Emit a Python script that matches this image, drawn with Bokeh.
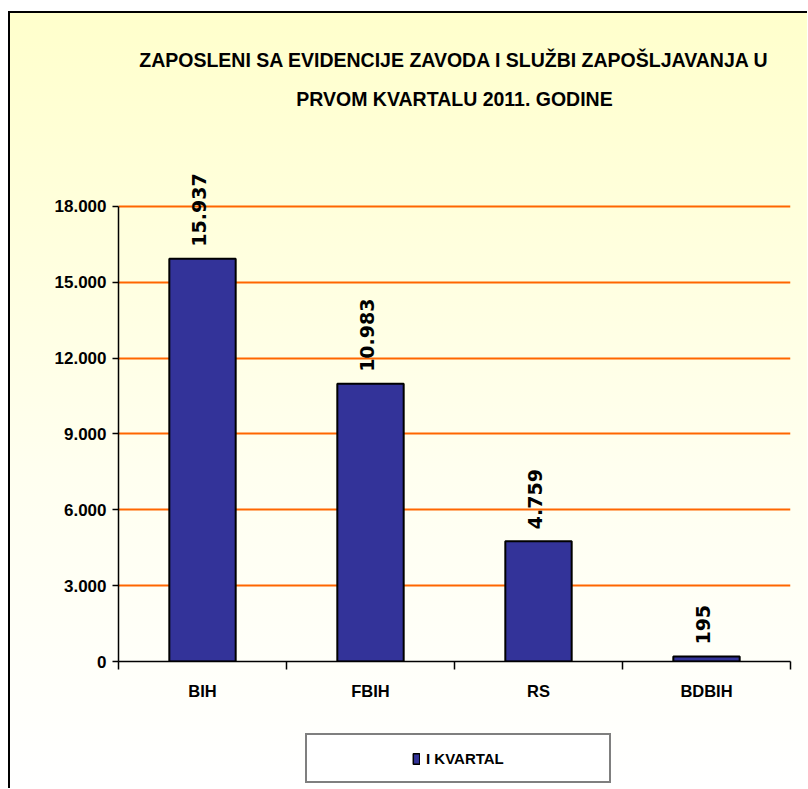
import math
from bokeh.plotting import figure
from bokeh.layouts import column
from bokeh.core.properties import value
from bokeh.models import (ColumnDataSource, FixedTicker, LabelSet, Legend, LegendItem, Title, Range1d)
from bokeh.embed import file_html
from bokeh.resources import INLINE

# ---- data ----
categories = ["BIH", "FBIH", "RS", "BDBIH"]
values = [15937, 10983, 4759, 195]
value_labels = ["15.937", "10.983", "4.759", "195"]
y_ticks = [0, 3000, 6000, 9000, 12000, 15000, 18000]
y_tick_labels = ["0", "3.000", "6.000", "9.000", "12.000", "15.000", "18.000"]
series_name = "I KVARTAL"
title_lines = ["ZAPOSLENI SA EVIDENCIJE ZAVODA I SLUŽBI ZAPOŠLJAVANJA U",
               "PRVOM KVARTALU 2011. GODINE"]

SANS = "'Liberation Sans', Arial, sans-serif"
WIDE = "DejaVu Sans"
BAR = "#333399"
GRID = "#FF6600"

xc = [i + 0.5 for i in range(len(categories))]
src = ColumnDataSource(dict(x=xc, top=values, lab=value_labels, cat=categories))

W = 797
p = figure(width=W, height=708, x_range=(0, len(categories)), y_range=(0, 20215),
           output_backend="svg", toolbar_location=None, tools="",
           min_border_left=108, min_border_right=17, min_border_top=137, min_border_bottom=60,
           title=None)
p.border_fill_color = None
p.background_fill_color = None
p.outline_line_color = None

# titles (first in list is nearest the frame)
def mk_title(txt, size, standoff):
    return Title(text=txt, align="center", text_font=SANS, text_font_size=size,
                 text_font_style="bold", text_color="black", standoff=standoff, offset=5)

spacer = mk_title("\u00a0", "19.5px", 9)
t2 = mk_title(title_lines[1], "19.5px", 15)
t1 = mk_title(title_lines[0], "19.5px", 15)
p.above = [spacer, t2, t1]

bars = p.vbar(x="x", top="top", width=0.395, source=src, fill_color=BAR,
              line_color="black", line_width=2)

labels = LabelSet(x="x", y="top", text="lab", source=src, angle=math.pi / 2,
                  text_align="left", text_baseline="middle", y_offset=12, x_offset=-3,
                  text_font=value(WIDE), text_font_style="bold", text_font_size="19px",
                  text_color="black")
p.add_layout(labels)

# y axis
p.yaxis.ticker = FixedTicker(ticks=y_ticks, minor_ticks=[])
p.yaxis.bounds = (y_ticks[0], y_ticks[-1])
p.yaxis.major_label_overrides = {t: l for t, l in zip(y_ticks, y_tick_labels)}
p.yaxis.major_label_text_font = SANS
p.yaxis.major_label_text_font_size = "17px"
p.yaxis.major_label_text_font_style = "bold"
p.yaxis.major_label_text_color = "black"
p.yaxis.major_tick_out = 6
p.yaxis.major_tick_in = 0
p.yaxis.axis_line_width = 1.5
p.yaxis.major_tick_line_width = 1.5
p.yaxis.major_label_standoff = 6

# x axis: labels at category centers, ticks at boundaries
p.xaxis.ticker = FixedTicker(ticks=xc, minor_ticks=list(range(len(categories) + 1)))
p.xaxis.major_label_overrides = {x: c for x, c in zip(xc, categories)}
p.xaxis.major_label_text_font = SANS
p.xaxis.major_label_text_font_size = "16.5px"
p.xaxis.major_label_text_font_style = "bold"
p.xaxis.major_label_text_color = "black"
p.xaxis.major_tick_out = 0
p.xaxis.major_tick_in = 0
p.xaxis.minor_tick_out = 8
p.xaxis.minor_tick_in = 0
p.xaxis.minor_tick_line_width = 1.5
p.xaxis.axis_line_width = 1.5
p.xaxis.major_label_standoff = 12

p.xgrid.grid_line_color = None
p.ygrid.ticker = FixedTicker(ticks=y_ticks[1:])
p.ygrid.grid_line_color = GRID
p.ygrid.grid_line_width = 2

# ---- legend strip (separate figure below the chart) ----
LH = 67
q = figure(width=W, height=LH, x_range=Range1d(0, 1), y_range=Range1d(0, 1),
           output_backend="svg", toolbar_location=None, tools="",
           x_axis_location=None, y_axis_location=None,
           min_border_left=0, min_border_right=0, min_border_top=0, min_border_bottom=0)
q.border_fill_color = None
q.background_fill_color = None
q.outline_line_color = None
q.grid.visible = False

d1 = q.vbar(x=[], top=[], width=0.1, fill_alpha=0, line_alpha=0)
lb = q.vbar(x="x", top="top", width=0.1, source=src, fill_color=BAR,
            line_color="black", line_width=1.5, visible=False)
d2 = q.vbar(x=[], top=[], width=0.1, fill_alpha=0, line_alpha=0)
legend = Legend(items=[LegendItem(label="\u00a0", renderers=[d1]),
                       LegendItem(label=series_name, renderers=[lb]),
                       LegendItem(label="\u00a0", renderers=[d2])],
                orientation="horizontal", location=(187, 5),
                padding=13, spacing=58, glyph_width=8, glyph_height=13,
                label_standoff=6, label_width=20, label_height=20,
                label_text_font=SANS, label_text_font_size="15px",
                label_text_font_style="bold", label_text_color="black",
                border_line_color="black", border_line_width=2,
                background_fill_color="white", background_fill_alpha=1.0,
                inactive_fill_alpha=0.0, margin=0)
q.add_layout(legend, "center")

layout = column(p, q, spacing=0,
                styles={"background": "linear-gradient(to bottom, #FFFFCC 0%, #FFFFF0 60%, #FFFFFF 100%)",
                        "border-top": "2px solid black", "border-left": "2px solid black",
                        "margin-top": "11px", "margin-left": "8px"})

open("out.html", "w").write(file_html(layout, INLINE))
